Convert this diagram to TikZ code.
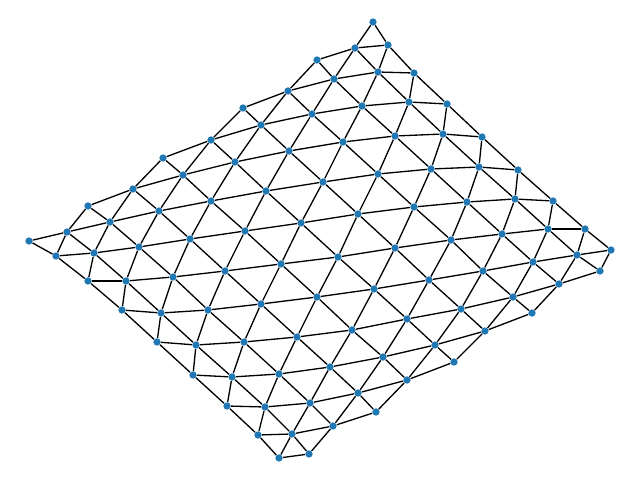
\documentclass[tikz,border=0pt]{standalone}
\usepackage{tikz}
\usetikzlibrary{backgrounds}
\definecolor{nodeblue}{HTML}{1F77B4}

\begin{document}
\begin{tikzpicture}[
      x=0.02cm,
      y=-0.02cm,
      vertex/.style={
        circle,
        fill=nodeblue,
        inner sep=0pt,
        minimum size=0.145cm
      },
      link/.style={
        line width=0.75pt,
        draw=black
      }
  ]

    \useasboundingbox (0,0) rectangle (640,480);

    % Gitterpunkte, Reihe fuer Reihe
    \foreach \x/\y [count=\i from 0] in {29/241,56/256,88/281,122/310,157/342,193/375,227/406,258/435,279/458}
      \node[vertex] (v\i-0) at (\x,\y) {};
    \foreach \x/\y [count=\i from 0] in {67/232,94/253,126/281,161/313,196/345,232/377,265/407,292/434,309/454}
      \node[vertex] (v\i-1) at (\x,\y) {};
    \foreach \x/\y [count=\i from 0] in {88/206,110/222,139/247,173/277,208/310,244/342,279/374,310/403,333/426}
      \node[vertex] (v\i-2) at (\x,\y) {};
    \foreach \x/\y [count=\i from 0] in {133/189,159/211,190/239,225/271,261/304,297/337,330/367,358/393,376/412}
      \node[vertex] (v\i-3) at (\x,\y) {};
    \foreach \x/\y [count=\i from 0] in {163/158,183/175,211/201,245/231,281/264,317/297,352/330,383/357,407/380}
      \node[vertex] (v\i-4) at (\x,\y) {};
    \foreach \x/\y [count=\i from 0] in {211/140,235/162,266/191,301/223,338/257,374/289,407/319,435/345,454/362}
      \node[vertex] (v\i-5) at (\x,\y) {};
    \foreach \x/\y [count=\i from 0] in {243/108,261/125,289/151,323/182,358/214,395/248,429/280,461/309,485/331}
      \node[vertex] (v\i-6) at (\x,\y) {};
    \foreach \x/\y [count=\i from 0] in {288/91,312/114,343/142,378/174,414/207,451/240,483/271,513/297,532/313}
      \node[vertex] (v\i-7) at (\x,\y) {};
    \foreach \x/\y [count=\i from 0] in {317/60,334/79,362/106,395/136,431/169,467/202,502/234,533/262,559/284}
      \node[vertex] (v\i-8) at (\x,\y) {};
    \foreach \x/\y [count=\i from 0] in {355/48,378/72,409/102,443/134,479/167,515/199,548/229,577/255,600/271}
      \node[vertex] (v\i-9) at (\x,\y) {};
    \foreach \x/\y [count=\i from 0] in {373/22,388/45,414/73,447/104,482/137,518/170,553/201,585/229,611/250}
      \node[vertex] (v\i-10) at (\x,\y) {};

    \begin{scope}[on background layer]
      % entlang der Reihen
      \foreach \j in {0,...,10}
        \foreach \i [count=\k] in {0,...,7}
          \draw[link] (v\i-\j) -- (v\k-\j);

      % zwischen den Reihen
      \foreach \j [count=\jj] in {0,...,9}
        \foreach \i in {0,...,8}
          \draw[link] (v\i-\j) -- (v\i-\jj);

      % Diagonalen, gerade Reihen
      \foreach \j [evaluate=\j as \jj using int(\j+1)] in {0,2,4,6,8}
        \foreach \i [count=\k] in {0,...,7}
          \draw[link] (v\k-\j) -- (v\i-\jj);

      % Diagonalen, ungerade Reihen
      \foreach \j [evaluate=\j as \jj using int(\j+1)] in {1,3,5,7,9}
        \foreach \i [count=\k] in {0,...,7}
          \draw[link] (v\i-\j) -- (v\k-\jj);
    \end{scope}

  \end{tikzpicture}
\end{document}
